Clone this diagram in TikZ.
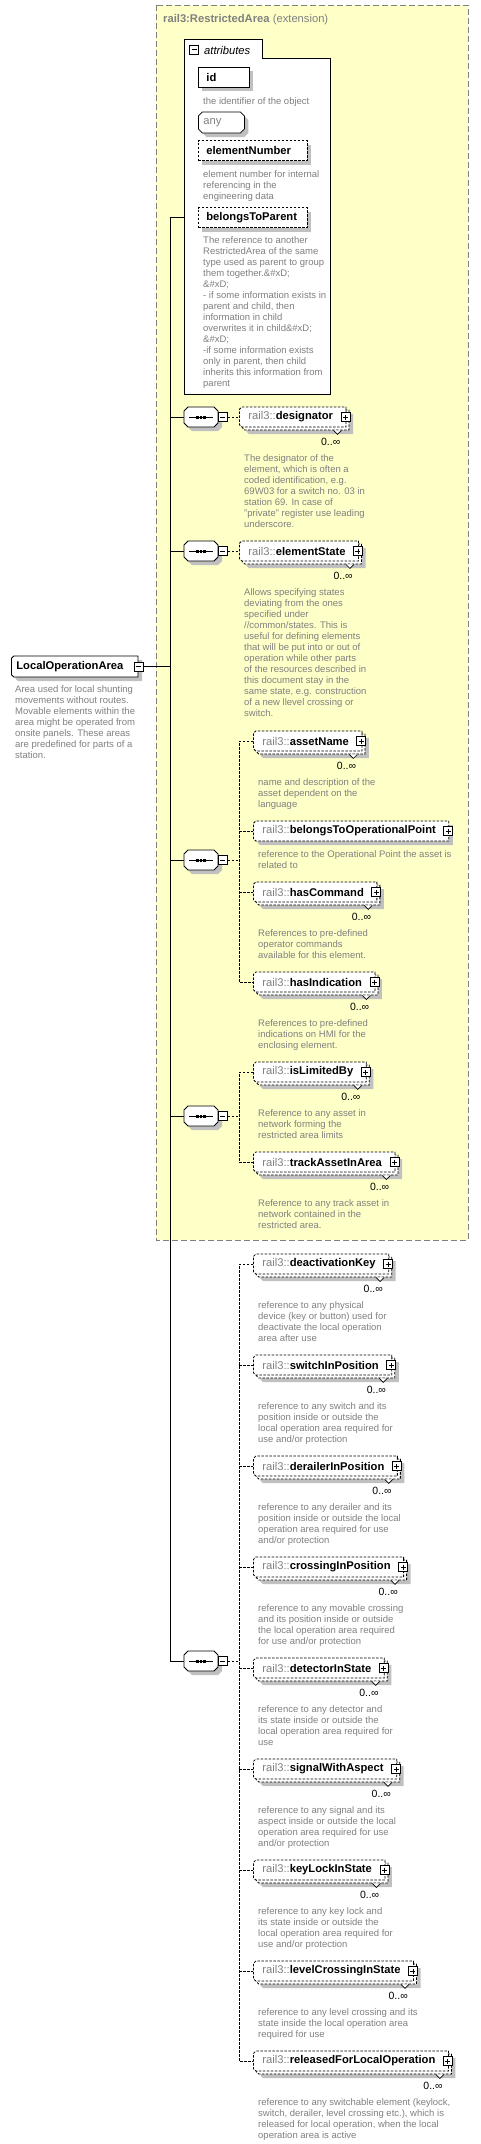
\documentclass[tikz,border=0pt]{standalone}
\usepackage{fontspec}
\setmainfont{Liberation Sans}
\usepackage{tikz}
\usetikzlibrary{shapes.misc, shadows, calc, positioning}

\definecolor{areayellow}{RGB}{255,255,200}
\definecolor{docgray}{RGB}{128,128,128}
\definecolor{shadowgray}{RGB}{192,192,192}

\tikzset{
  conn/.style={line width=0.8pt},
  dashline/.style={line width=0.8pt, dash pattern=on 2.5pt off 1.5pt},
  name font/.style={font=\fontsize{11.2}{13}\selectfont},
  doc/.style={anchor=north west, inner sep=0pt, align=left, text=docgray, font=\fontsize{9.5}{11}\selectfont},
  occurs/.style={anchor=east, inner sep=0pt, font=\fontsize{10.5}{12}\selectfont},
  shade/.style={general shadow={fill=shadowgray, shadow xshift=#1, shadow yshift=-#1}},
  shade/.default=4pt,
  optional/.style={dash pattern=on 2.5pt off 1.5pt},
  elem/.style={chamfered rectangle, chamfered rectangle corners={north west,south west},
    chamfered rectangle sep=1.2pt, draw, fill=white, line width=0.8pt,
    minimum height=20pt, inner xsep=7.8pt, inner ysep=0pt, anchor=west, name font},
  single/.style={elem, optional, shade},
  multi/.style={elem, optional, shade=7pt,
    general shadow={draw, fill=white, line width=0.8pt, optional, shadow xshift=3pt, shadow yshift=-3pt}},
  plusbox/.style={draw, solid, fill=white, line width=0.7pt, minimum size=9pt, inner sep=0pt,
    path picture={\draw[black, line width=0.7pt]
      ([yshift=-2pt]path picture bounding box.north) -- ([yshift=2pt]path picture bounding box.south)
      ([xshift=2pt]path picture bounding box.west) -- ([xshift=-2pt]path picture bounding box.east);}},
  minusbox/.style={draw, solid, fill=white, line width=0.7pt, minimum size=9pt, inner sep=0pt,
    path picture={\draw[black, line width=0.7pt]
      ([xshift=2pt]path picture bounding box.west) -- ([xshift=-2pt]path picture bounding box.east);}},
  seq/.style={chamfered rectangle, chamfered rectangle corners={north west,north east,south west,south east},
    chamfered rectangle sep=2pt, draw, fill=white, line width=0.8pt,
    inner xsep=15pt, inner ysep=8pt, shade,
    path picture={
      \draw[black, line width=0.8pt] ([xshift=5pt]path picture bounding box.west) -- ([xshift=-5pt]path picture bounding box.east);
      \fill[black] ([xshift=-4.8pt, yshift=-1.5pt]path picture bounding box.center) rectangle ([xshift=-2.1pt, yshift=1.5pt]path picture bounding box.center);
      \fill[black] ([xshift=-1.35pt, yshift=-1.5pt]path picture bounding box.center) rectangle ([xshift=1.35pt, yshift=1.5pt]path picture bounding box.center);
      \fill[black] ([xshift=2.1pt, yshift=-1.5pt]path picture bounding box.center) rectangle ([xshift=4.8pt, yshift=1.5pt]path picture bounding box.center);
    }},
  attrbox/.style={rectangle, draw, fill=white, line width=0.8pt, minimum height=20pt,
    inner xsep=8pt, inner ysep=0pt, align=left, anchor=west, shade, name font},
  anybox/.style={chamfered rectangle, chamfered rectangle corners={north west,north east,south west,south east},
    chamfered rectangle sep=2pt, draw, fill=white, line width=0.8pt,
    minimum height=21pt, inner xsep=3pt, inner ysep=0pt, text width=36pt, align=left,
    anchor=west, text=docgray, shade, name font},
  notch/.style={draw, solid, fill=white, line width=0.7pt},
  extframe/.style={draw=docgray, fill=areayellow, line width=0.8pt, dash pattern=on 6pt off 3pt},
  attrframe/.style={draw, fill=white, line width=0.8pt},
}

\begin{document}
\begin{tikzpicture}[x=1pt, y=-1pt]
  \useasboundingbox (0,0) rectangle (481,2144);

  % extension frame
  \draw[extframe] (156,5) rectangle (468,1240);
  \node[anchor=west, inner sep=0pt, text=docgray, name font] (exttitle) at (163,20)
    {\textbf{rail3:RestrictedArea} (extension)};

  % attributes
  \draw[attrframe] (184,394) -- (184,39) -- (262,39) -- (262,58) -- (330,58) -- (330,394) -- cycle;
  \node[minusbox] (attrminus) at (194,49.5) {};
  \node[anchor=west, inner sep=0pt, name font] (attrlabel) at (204,50) {\itshape attributes};

  \node[attrbox, text width=35pt] (id) at (198,77) {\textbf{id}};
  \node[doc] (iddoc) at (203,97) {the identifier of the object};
  \node[anybox] (any) at (198,122.5) {any};
  \node[attrbox, optional, text width=93pt] (elementNumber) at (198,150.5) {\textbf{elementNumber}};
  \node[doc] (elementNumberdoc) at (203,170) {element number for internal\\referencing in the\\engineering data};
  \node[attrbox, optional, text width=93pt] (belongsToParent) at (198,217.5) {\textbf{belongsToParent}};
  \node[doc] (belongsToParentdoc) at (203,236) {The reference to another\\RestrictedArea of the same\\type used as parent to group\\them together.\&\#xD;\\\&\#xD;\\- if some information exists in\\parent and child, then\\information in child\\overwrites it in child\&\#xD;\\\&\#xD;\\-if some information exists\\only in parent, then child\\inherits this information from\\parent};

  % element
  \node[elem, solid, shade, minimum height=21pt, inner xsep=3.8pt] (loa) at (11,666.5)
    {\textbf{LocalOperationArea}\hspace*{9.5pt}};
  \node[minusbox] (loaminus) at (loa.east) {};
  \node[doc] (loadoc) at (15,685) {Area used for local shunting\\movements without routes.\\Movable elements within the\\area might be operated from\\onsite panels. These areas\\are predefined for parts of a\\station.};

  % sequences
  \foreach \sq/\yy in {s1/417, s2/551, s3/860, s4/1116, s5/1661} {
    \node[seq] (\sq) at (201,\yy) {};
    \node[minusbox] (\sq m) at ([xshift=4.5pt]\sq.east) {};
  }

  % children
  \foreach \el/\xx/\yy in {designator/239/417, elementState/239/551, assetName/253/741,
      hasCommand/253/892, hasIndication/253/982, isLimitedBy/253/1072, trackAssetInArea/253/1162,
      deactivationKey/253/1264, switchInPosition/253/1365, derailerInPosition/253/1466,
      crossingInPosition/253/1567, detectorInState/253/1668, signalWithAspect/253/1769,
      keyLockInState/253/1870, levelCrossingInState/253/1971, releasedForLocalOperation/253/2061}{
    \node[multi] (\el) at (\xx,\yy) {{\color{docgray}rail3::}\textbf{\el}\hspace*{4pt}};
    \node[plusbox] (\el-plus) at ([xshift=-1pt]\el.east) {};
    \draw[notch] ([xshift=-13pt,yshift=-3pt]\el.south east) -- ++(4pt,-4pt) -- ++(4pt,4pt);
    \node[occurs] (\el-occ) at ([xshift=-6pt,yshift=-25pt]\el.east) {0..∞};
  }

  \node[single] (belongsToOperationalPoint) at (253,831)
    {{\color{docgray}rail3::}\textbf{belongsToOperationalPoint}\hspace*{4pt}};
  \node[plusbox] (belongsToOperationalPoint-plus) at ([xshift=-1pt]belongsToOperationalPoint.east) {};

  % annotations
  \node[doc] (designator-doc) at ([xshift=5pt,yshift=-37pt]designator.west) {The designator of the\\element, which is often a\\coded identification, e.g.\\69W03 for a switch no. 03 in\\station 69. In case of\\"private" register use leading\\underscore.};
  \node[doc] (elementState-doc) at ([xshift=5pt,yshift=-37pt]elementState.west) {Allows specifying states\\deviating from the ones\\specified under\\//common/states. This is\\useful for defining elements\\that will be put into or out of\\operation while other parts\\of the resources described in\\this document stay in the\\same state, e.g. construction\\of a new llevel crossing or\\switch.};
  \node[doc] (assetName-doc) at ([xshift=5pt,yshift=-37pt]assetName.west) {name and description of the\\asset dependent on the\\language};
  \node[doc] (belongsToOperationalPoint-doc) at ([xshift=5pt,yshift=-19pt]belongsToOperationalPoint.west) {reference to the Operational Point the asset is\\related to};
  \node[doc] (hasCommand-doc) at ([xshift=5pt,yshift=-37pt]hasCommand.west) {References to pre-defined\\operator commands\\available for this element.};
  \node[doc] (hasIndication-doc) at ([xshift=5pt,yshift=-37pt]hasIndication.west) {References to pre-defined\\indications on HMI for the\\enclosing element.};
  \node[doc] (isLimitedBy-doc) at ([xshift=5pt,yshift=-37pt]isLimitedBy.west) {Reference to any asset in\\network forming the\\restricted area limits};
  \node[doc] (trackAssetInArea-doc) at ([xshift=5pt,yshift=-37pt]trackAssetInArea.west) {Reference to any track asset in\\network contained in the\\restricted area.};
  \node[doc] (deactivationKey-doc) at ([xshift=5pt,yshift=-37pt]deactivationKey.west) {reference to any physical\\device (key or button) used for\\deactivate the local operation\\area after use};
  \node[doc] (switchInPosition-doc) at ([xshift=5pt,yshift=-37pt]switchInPosition.west) {reference to any switch and its\\position inside or outside the\\local operation area required for\\use and/or protection};
  \node[doc] (derailerInPosition-doc) at ([xshift=5pt,yshift=-37pt]derailerInPosition.west) {reference to any derailer and its\\position inside or outside the local\\operation area required for use\\and/or protection};
  \node[doc] (crossingInPosition-doc) at ([xshift=5pt,yshift=-37pt]crossingInPosition.west) {reference to any movable crossing\\and its position inside or outside\\the local operation area required\\for use and/or protection};
  \node[doc] (detectorInState-doc) at ([xshift=5pt,yshift=-37pt]detectorInState.west) {reference to any detector and\\its state inside or outside the\\local operation area required for\\use};
  \node[doc] (signalWithAspect-doc) at ([xshift=5pt,yshift=-37pt]signalWithAspect.west) {reference to any signal and its\\aspect inside or outside the local\\operation area required for use\\and/or protection};
  \node[doc] (keyLockInState-doc) at ([xshift=5pt,yshift=-37pt]keyLockInState.west) {reference to any key lock and\\its state inside or outside the\\local operation area required for\\use and/or protection};
  \node[doc] (levelCrossingInState-doc) at ([xshift=5pt,yshift=-37pt]levelCrossingInState.west) {reference to any level crossing and its\\state inside the local operation area\\required for use};
  \node[doc] (releasedForLocalOperation-doc) at ([xshift=5pt,yshift=-37pt]releasedForLocalOperation.west) {reference to any switchable element (keylock,\\switch, derailer, level crossing etc.), which is\\released for local operation, when the local\\operation area is active};

  % main connectors
  \coordinate (attr) at (184,217);
  \draw[conn] (attr) -- ++(-14,0) coordinate (bus) |- (s5.west);
  \foreach \sq in {s1,s2,s3,s4}
    \draw[conn] (bus |- \sq.west) -- (\sq.west);
  \draw[conn] (loaminus.east) -- (bus |- loaminus.east);

  % sequence connectors
  \draw[dashline] (s1m.east) -- (designator.west);
  \draw[dashline] (s2m.east) -- (elementState.west);

  \draw[dashline] (assetName.west) -- ++(-14,0) coordinate (g3) |- (hasIndication.west);
  \foreach \el in {belongsToOperationalPoint, hasCommand}
    \draw[dashline] (g3 |- \el.west) -- (\el.west);
  \draw[dashline] (s3m.east) -- (g3 |- s3m.east);

  \draw[dashline] (isLimitedBy.west) -- ++(-14,0) coordinate (g4) |- (trackAssetInArea.west);
  \draw[dashline] (s4m.east) -- (g4 |- s4m.east);

  \draw[dashline] (deactivationKey.west) -- ++(-14,0) coordinate (g5) |- (releasedForLocalOperation.west);
  \foreach \el in {switchInPosition, derailerInPosition, crossingInPosition, detectorInState,
                   signalWithAspect, keyLockInState, levelCrossingInState}
    \draw[dashline] (g5 |- \el.west) -- (\el.west);
  \draw[dashline] (s5m.east) -- (g5 |- s5m.east);
\end{tikzpicture}
\end{document}
